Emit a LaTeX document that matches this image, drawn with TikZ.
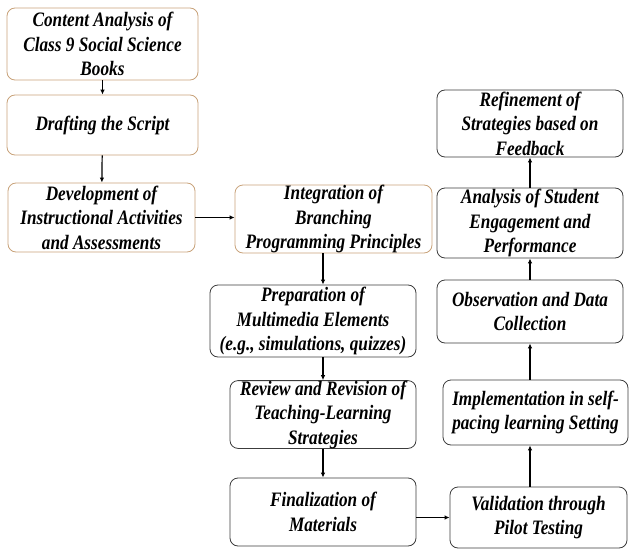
\documentclass[tikz,border=0pt]{standalone}
\usepackage{fontspec}
\setmainfont{Liberation Serif}[FakeStretch=0.84]
\usetikzlibrary{arrows.meta}
\definecolor{tanb}{RGB}{200,162,122}
\definecolor{darkb}{RGB}{60,60,60}
\begin{document}
\begin{tikzpicture}[x=1pt,y=-1pt,
  box/.style={draw=darkb,line width=0.8pt,rounded corners=8pt,align=center,
    font=\fontsize{20.5}{24.5}\selectfont\bfseries\itshape,inner sep=0pt},
  tbox/.style={box,draw=tanb},
  arr/.style={line width=1.2pt,-{Latex[length=5pt,width=4.5pt]}}]
\useasboundingbox (0,0) rectangle (629,551);
\node[tbox,minimum width=191pt,minimum height=72pt] (b1) at (102.5,44) {Content Analysis of\\Class 9 Social Science\\Books};
\node[tbox,minimum width=191pt,minimum height=60pt] (b2) at (102.5,125) {Drafting the Script};
\node[tbox,minimum width=187pt,minimum height=69pt] (b3) at (101.5,217.5) {Development of\\Instructional Activities\\and Assessments};
\node[tbox,minimum width=197pt,minimum height=68pt] (b4) at (333.5,219) {Integration of\\Branching\\Programming Principles};
\node[box,minimum width=206pt,minimum height=72pt] (b5) at (313,321) {Preparation of\\Multimedia Elements\\(e.g., simulations, quizzes)};
\node[box,minimum width=186pt,minimum height=65pt] (b6) at (323,414.5) {Review and Revision of\\Teaching-Learning\\Strategies};
\node[box,minimum width=186pt,minimum height=68pt] (b7) at (323,512) {Finalization of\\Materials};
\node[box,minimum width=177pt,minimum height=61pt] (b8) at (538.5,517.5) {Validation through\\Pilot Testing};
\node[box,minimum width=185pt,minimum height=65pt] (b9) at (535.5,412.5) {Implementation in self-\\pacing learning Setting};
\node[box,minimum width=186pt,minimum height=63pt] (b10) at (530,311.5) {Observation and Data\\Collection};
\node[box,minimum width=186pt,minimum height=70pt] (b11) at (530,223) {Analysis of Student\\Engagement and\\Performance};
\node[box,minimum width=186pt,minimum height=67pt] (b12) at (530,123.5) {Refinement of\\Strategies based on\\Feedback};
\draw[arr] (b1) -- (b2);
\draw[arr] (b2) -- (b3);
\draw[arr] (b3.east) -- (b3.east -| b4.west);
\draw[arr] (b4.south -| b6.north) -- (b6.north |- b5.north);
\draw[arr] (b5.south -| b6.north) -- (b6.north);
\draw[arr] (b6) -- (b7);
\draw[arr] (b7.east |- b8.west) -- (b8.west);
\draw[arr] (b8.north -| b10.south) -- (b9.south -| b10.south);
\draw[arr] (b9.north -| b10.south) -- (b10.south);
\draw[arr] (b10) -- (b11);
\draw[arr] (b11) -- (b12);
\end{tikzpicture}
\end{document}
